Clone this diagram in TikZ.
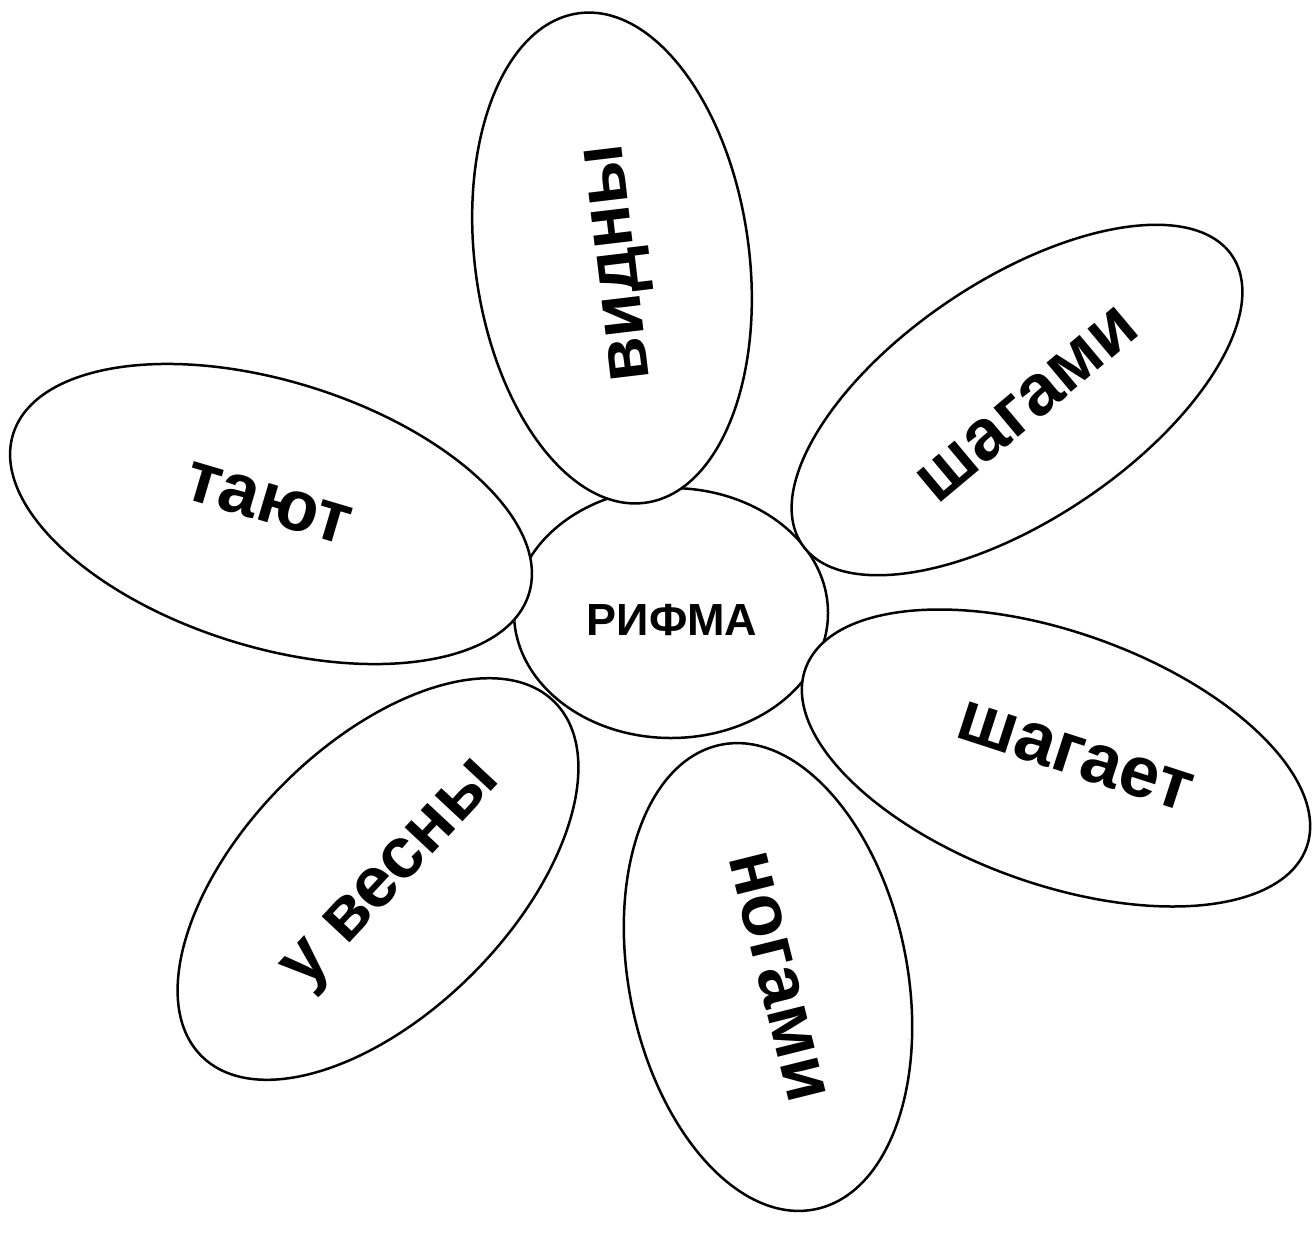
\documentclass[tikz,border=0pt]{standalone}
\usepackage{fontspec}
\setmainfont{Liberation Sans}
\usetikzlibrary{shapes.geometric}

\begin{document}
\begin{tikzpicture}[x=1pt, y=-1pt,
    petal/.style={ellipse, draw, fill=white, line width=2.5pt, inner sep=0pt},
    word/.style={font=\fontsize{72}{80}\selectfont\bfseries, inner sep=0pt,
                 text height=37pt, text depth=0pt}]
  \useasboundingbox (0,0) rectangle (1314,1235);
  % --- centre of the flower -----------------------------------------
  \node[petal, minimum width=314pt, minimum height=250pt] (rifma) at (671,613) {};
  \node[word, font=\fontsize{45}{50}\selectfont\bfseries, text height=32pt] (rifmaText) at (672,619) {РИФМА};
  % --- petals (drawn over the centre) -------------------------------
  \node[petal, minimum width=494pt, minimum height=274pt, rotate=97.8]  (vidny)   at (612,258)  {};
  \node[petal, minimum width=518pt, minimum height=240pt, rotate=33.8]  (shagami) at (1017,400) {};
  \node[petal, minimum width=540pt, minimum height=266pt, rotate=-17.2] (tayut)   at (271,514)  {};
  \node[petal, minimum width=532pt, minimum height=252pt, rotate=-19.6] (shagaet) at (1056,758) {};
  \node[petal, minimum width=474pt, minimum height=278pt, rotate=-78.5] (nogami)  at (768,977)  {};
  \node[petal, minimum width=500pt, minimum height=268pt, rotate=45.1]  (vesny)   at (378,879)  {};
  % --- words ---------------------------------------------------------
  \node[word, rotate=96.8]  (vidnyText)   at (617,263)  {видны};
  \node[word, rotate=40]    (shagamiText) at (1028,405) {шагами};
  \node[word, rotate=-16.5] (tayutText)   at (268,504)  {тают};
  \node[word, rotate=-18]   (shagaetText) at (1075,757) {шагает};
  \node[word, rotate=-76]   (nogamiText)  at (777,977)  {ногами};
  \node[word, rotate=47]    (vesnyText)   at (390,873)  {у весны};
\end{tikzpicture}
\end{document}
